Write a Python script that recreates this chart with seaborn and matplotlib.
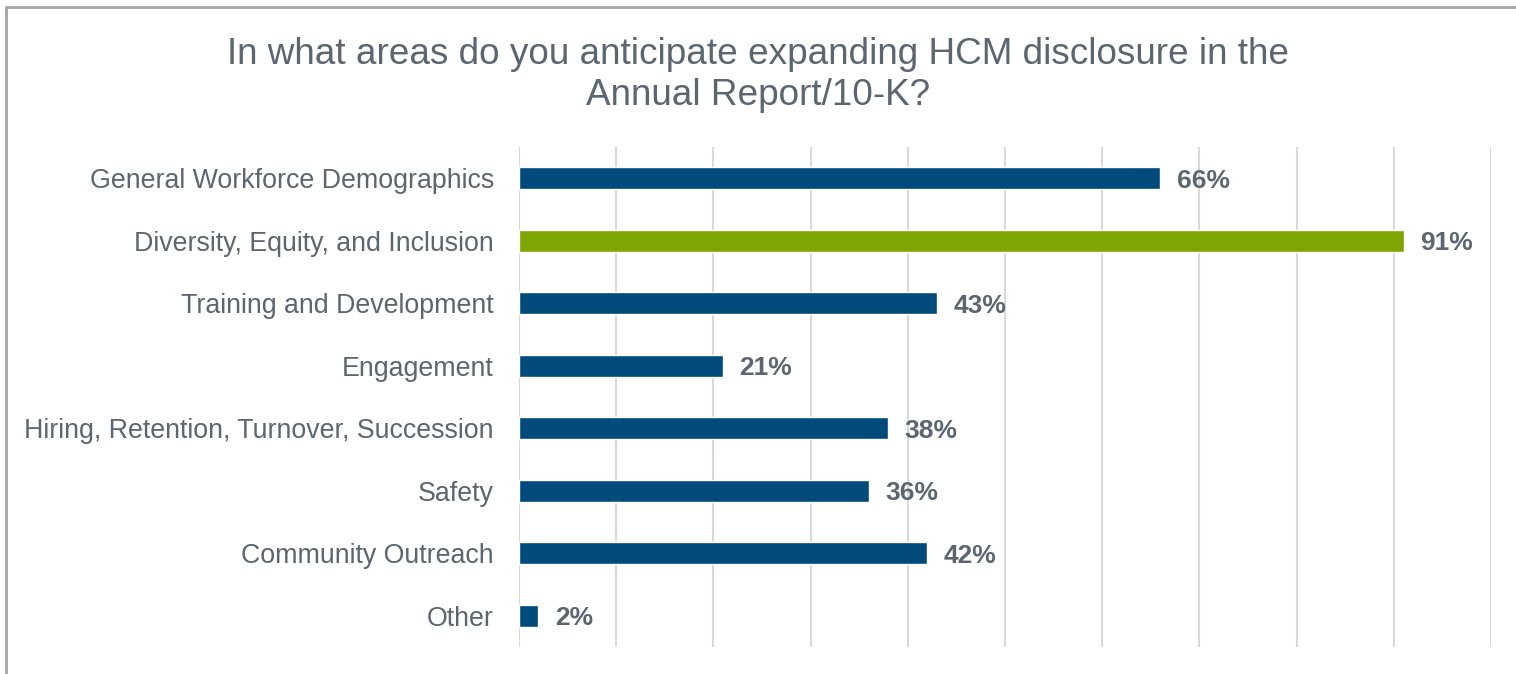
import pandas as pd
import matplotlib
matplotlib.use("Agg")
import matplotlib.pyplot as plt
from matplotlib.lines import Line2D
import seaborn as sns

# chart data
categories = [
    "General Workforce Demographics",
    "Diversity, Equity, and Inclusion",
    "Training and Development",
    "Engagement",
    "Hiring, Retention, Turnover, Succession",
    "Safety",
    "Community Outreach",
    "Other",
]
values = [66, 91, 43, 21, 38, 36, 42, 2]
highlight = "Diversity, Equity, and Inclusion"
title = "In what areas do you anticipate expanding HCM disclosure in the\nAnnual Report/10-K?"

BLUE = "#004B7C"
GREEN = "#7FA600"
TEXT = "#5B6670"

sns.set_style("white")
plt.rcParams["font.family"] = ["Liberation Sans", "DejaVu Sans"]

df = pd.DataFrame({"area": categories, "pct": values})
palette = {c: (GREEN if c == highlight else BLUE) for c in categories}

fig = plt.figure(figsize=(15.16, 6.74), dpi=100)
ax = fig.add_axes([0.3423, 0.0401, 0.6412, 0.7418])

sns.barplot(data=df, x="pct", y="area", hue="area", palette=palette,
            order=categories, width=0.35, legend=False, ax=ax, saturation=1)

ax.set_xlim(0, 100)
ax.set_xticks(range(0, 101, 10))
ax.xaxis.grid(True, color="#D9D9D9", linewidth=1.5)
ax.set_axisbelow(True)
ax.tick_params(axis="x", length=0, labelbottom=False)
ax.tick_params(axis="y", length=0, labelsize=19.3, labelcolor=TEXT, pad=18)
ax.set_xlabel("")
ax.set_ylabel("")
for s in ax.spines.values():
    s.set_visible(False)

for i, v in enumerate(values):
    ax.text(v + 1.7, i, f"{v}%", va="center_baseline", ha="left",
            fontsize=19, fontweight="bold", color=TEXT)

fig.text(0.5, 0.889, title, ha="center", va="center", fontsize=26.6,
         color=TEXT, linespacing=1.2)

# frame lines on the top and left edges
fig.add_artist(Line2D([6 / 1516, 1.0], [1 - 7 / 674, 1 - 7 / 674],
                      transform=fig.transFigure, color="#A6A6A0", linewidth=2))
fig.add_artist(Line2D([6 / 1516, 6 / 1516], [0, 1 - 7 / 674],
                      transform=fig.transFigure, color="#A6A6A0", linewidth=2))

fig.savefig("out.png", dpi=100, facecolor="white")
